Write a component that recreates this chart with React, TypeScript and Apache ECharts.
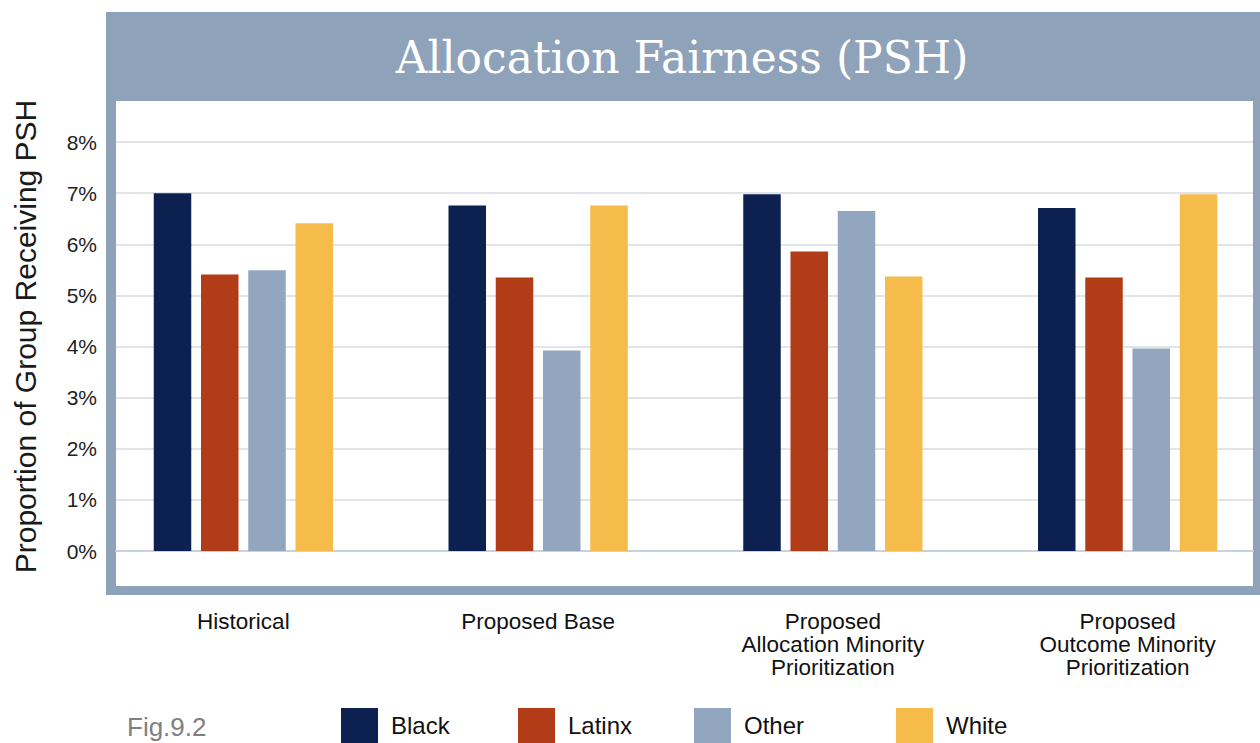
import React, { useEffect, useRef } from "react";
import * as echarts from "echarts";

const categories = [
  "Historical",
  "Proposed Base",
  "Proposed\nAllocation Minority\nPrioritization",
  "Proposed\nOutcome Minority\nPrioritization",
];
const seriesNames = ["Black", "Latinx", "Other", "White"];
const black = [7.0, 6.76, 6.98, 6.71];
const latinx = [5.41, 5.35, 5.86, 5.35];
const other = [5.49, 3.92, 6.65, 3.96];
const white = [6.41, 6.76, 5.37, 6.98];
const colors = ["#0c2150", "#b23c17", "#92a6c0", "#f6bc4b"];
const yMin = 0;
const yMax = 8;
const yInterval = 1;
const title = "Allocation Fairness (PSH)";
const yTitle = "Proportion of Group Receiving PSH";
const figLabel = "Fig.9.2";
const legendLefts = [341, 518, 694, 896];

export default function App() {
  const ref = useRef<HTMLDivElement>(null);
  useEffect(() => {
    if (!ref.current) return;
    const chart = echarts.init(ref.current, undefined, { renderer: "svg" });
    const values = [black, latinx, other, white];
    const sans = "Liberation Sans, Arial, sans-serif";
    chart.setOption({
      animation: false,
      backgroundColor: "#ffffff",
      title: {
        text: title,
        left: 677,
        top: 30,
        textAlign: "center",
        textStyle: {
          fontFamily: "DejaVu Serif, serif",
          fontSize: 44,
          fontWeight: "normal",
          color: "#ffffff",
        },
      },
      graphic: [
        {
          type: "rect",
          z: -10,
          shape: { x: 106, y: 12, width: 1194, height: 583 },
          style: { fill: "#8ea2ba" },
        },
        {
          type: "rect",
          z: -9,
          shape: { x: 116, y: 101, width: 1137, height: 485 },
          style: { fill: "#ffffff" },
        },
        {
          type: "text",
          x: 127,
          y: 727,
          style: {
            text: figLabel,
            fontFamily: sans,
            fontSize: 26,
            fill: "#808080",
            verticalAlign: "middle",
          },
        },
      ],
      legend: seriesNames.map((n, i) => ({
        data: [n],
        left: legendLefts[i],
        top: 708,
        padding: 0,
        orient: "horizontal",
        selectedMode: false,
        itemWidth: 37,
        itemHeight: 35,
        icon: "rect",
        textStyle: {
          fontFamily: sans,
          fontSize: 24,
          color: "#111111",
          padding: [5, 0, 0, 8],
        },
      })),
      grid: [
        { left: 96, width: 1179, top: 142, bottom: 192, containLabel: false },
        { left: 116, right: 47, top: 142, bottom: 192, containLabel: false },
      ],
      xAxis: [
        {
          type: "category",
          gridIndex: 0,
          data: categories,
          axisLine: { show: false },
          axisTick: { show: false },
          axisLabel: {
            interval: 0,
            margin: 59,
            fontFamily: sans,
            fontSize: 22.5,
            lineHeight: 23,
            color: "#111111",
            align: "center",
          },
        },
        {
          type: "value",
          gridIndex: 1,
          min: 0,
          max: 1,
          axisLine: { show: true, lineStyle: { color: "#c9d1dc", width: 2 } },
          axisTick: { show: false },
          axisLabel: { show: false },
          splitLine: { show: false },
        },
      ],
      yAxis: [
        {
          type: "value",
          gridIndex: 0,
          min: yMin,
          max: yMax,
          interval: yInterval,
          show: false,
          splitLine: { show: false },
        },
        {
          type: "value",
          gridIndex: 1,
          min: yMin,
          max: yMax,
          interval: yInterval,
          name: yTitle,
          nameLocation: "middle",
          nameRotate: 90,
          nameGap: 76,
          nameTextStyle: {
            fontFamily: sans,
            fontSize: 30,
            color: "#1a1a1a",
            padding: [0, 0, 0, 20],
          },
          axisLine: { show: false },
          axisTick: { show: false },
          axisLabel: {
            margin: 19,
            fontFamily: sans,
            fontSize: 21,
            color: "#222222",
            formatter: "{value}%",
          },
          splitLine: { show: true, lineStyle: { color: "#e1e5ea", width: 2 } },
        },
      ],
      series: seriesNames.map((n, i) => ({
        name: n,
        type: "bar",
        xAxisIndex: 0,
        yAxisIndex: 0,
        data: values[i],
        barWidth: 37.5,
        barGap: "26%",
        itemStyle: { color: colors[i] },
        z: 3,
      })),
    });
    return () => chart.dispose();
  }, []);
  return (
    <div
      style={{
        position: "fixed",
        left: 0,
        top: 0,
        width: 1260,
        height: 743,
        overflow: "hidden",
      }}
    >
      <div ref={ref} style={{ width: 1300, height: 743 }} />
    </div>
  );
}
